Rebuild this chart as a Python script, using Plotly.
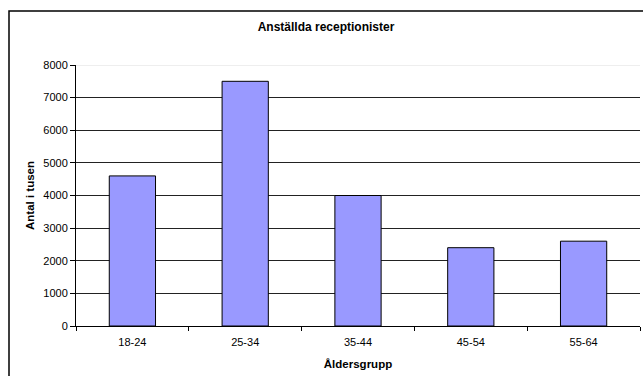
import plotly.graph_objects as go

categories = ["18-24", "25-34", "35-44", "45-54", "55-64"]
values = [4600, 7500, 4000, 2400, 2600]
y_ticks = [0, 1000, 2000, 3000, 4000, 5000, 6000, 7000, 8000]

W, H = 643, 376
L, R, T, B = 76, 3, 65, 50
pw, ph = W - L - R, H - T - B

fig = go.Figure(go.Bar(
    x=categories, y=values,
    marker=dict(color="#9999FF", line=dict(color="#000000", width=1)),
    width=0.41,
))

font = "Liberation Sans, Arial, sans-serif"
fig.update_layout(
    width=W, height=H,
    margin=dict(l=L, r=R, t=T, b=B),
    paper_bgcolor="white", plot_bgcolor="white",
    showlegend=False,
    font=dict(family=font, size=11, color="#000000"),
    title=dict(text="<b>Anställda receptionister</b>", x=326 / W, xanchor="center",
               y=1 - 27 / H, yanchor="middle", font=dict(size=12, family=font)),
    xaxis=dict(
        showline=True, linecolor="#000000", linewidth=1,
        ticks="outside", ticklen=4, tickcolor="#000000", tickson="boundaries",
        ticklabelstandoff=6,
        showgrid=False,
        title=dict(text="<b>Åldersgrupp</b>", font=dict(size=11.5), standoff=12),
        tickfont=dict(size=11),
    ),
    yaxis=dict(
        range=[0, 8000], tickvals=y_ticks,
        showline=True, linecolor="#000000", linewidth=1,
        ticks="outside", ticklen=5, tickcolor="#000000",
        showgrid=True, gridcolor="#222222", gridwidth=1,
        zeroline=False,
        title=dict(text="<b>Antal i tusen</b>", font=dict(size=11.5), standoff=6),
        tickfont=dict(size=11),
    ),
    shapes=[
        dict(type="rect", xref="paper", yref="paper",
             x0=(9 - L) / pw, x1=1.2, y0=-0.5, y1=1 + (T - 11) / ph,
             line=dict(color="#000000", width=1.5), fillcolor="rgba(0,0,0,0)", layer="above"),
        dict(type="line", xref="paper", yref="y", x0=0, x1=1, y0=8000, y1=8000,
             line=dict(color="#DDDDDD", width=1), layer="above"),
    ],
)

fig.write_html("out.html")
